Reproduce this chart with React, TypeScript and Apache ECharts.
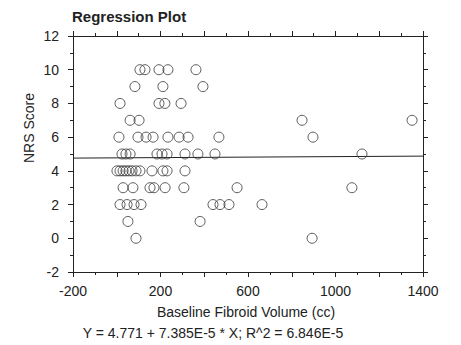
import React, { useEffect, useRef } from "react";
import * as echarts from "echarts";

// Scatter points grouped by NRS score row
const row10X = [106, 129, 193, 234, 362];
const row9X = [83, 211, 394];
const row8X = [15, 193, 220, 294];
const row7X = [61, 102, 847, 1350];
const row6X = [10, 97, 134, 166, 234, 285, 326, 467, 897];
const row5X = [24, 42, 61, 184, 207, 230, 312, 371, 449, 1121];
const row4X = [1, 15, 29, 42, 56, 70, 88, 106, 161, 211, 230, 312];
const row3X = [29, 74, 152, 170, 221, 307, 550, 1075];
const row2X = [15, 47, 79, 111, 440, 472, 513, 664];
const row1X = [51, 381];
const row0X = [88, 893];

const rows: [number, number[]][] = [
  [10, row10X], [9, row9X], [8, row8X], [7, row7X], [6, row6X], [5, row5X],
  [4, row4X], [3, row3X], [2, row2X], [1, row1X], [0, row0X],
];

const intercept = 4.771;
const slope = 7.385e-5;
const xMin = -200;
const xMax = 1400;
const yMin = -2;
const yMax = 12;

const titleText = "Regression Plot";
const xName = "Baseline Fibroid Volume (cc)";
const yName = "NRS Score";
const formulaText = "Y = 4.771 + 7.385E-5 * X; R^2 = 6.846E-5";

export default function App() {
  const ref = useRef<HTMLDivElement>(null);
  useEffect(() => {
    if (!ref.current) return;
    const chart = echarts.init(ref.current, null, { renderer: "svg" });
    const points: number[][] = [];
    rows.forEach(([y, xs]) => xs.forEach((x) => points.push([x, y])));
    const font = "'Liberation Sans', Arial, sans-serif";
    const ink = "#222";
    const axisCommon = {
      axisLine: { show: true, onZero: false, lineStyle: { color: ink, width: 1 } },
      axisTick: { show: true, inside: false, length: 5, lineStyle: { color: ink } },
      minorTick: { show: true, splitNumber: 2, length: 3, lineStyle: { color: ink } },
      splitLine: { show: false },
      minorSplitLine: { show: false },
    };
    chart.setOption({
      animation: false,
      backgroundColor: "#fff",
      textStyle: { fontFamily: font },
      grid: { left: 73, right: 38, top: 36, bottom: 73 },
      graphic: [
        {
          type: "text", left: 72, top: 9,
          style: { text: titleText, font: `bold 15px ${font}`, fill: ink },
        },
        {
          type: "text", x: 29, y: 128, rotation: Math.PI / 2,
          style: { text: yName, font: `14px ${font}`, fill: ink, align: "center", verticalAlign: "middle" },
        },
        {
          type: "text", x: 246, y: 312,
          style: { text: xName, font: `14px ${font}`, fill: ink, align: "center", verticalAlign: "middle" },
        },
        {
          type: "text", x: 213, y: 333,
          style: { text: formulaText, font: `14px ${font}`, fill: ink, align: "center", verticalAlign: "middle" },
        },
      ],
      xAxis: [
        {
          type: "value", min: xMin, max: xMax, interval: 200, position: "bottom",
          ...axisCommon,
          axisLabel: {
            margin: 12, color: ink, fontSize: 14, fontFamily: font,
            formatter: (v: number) => ((v - xMin) % 400 === 0 ? String(v) : ""),
          },
        },
        {
          type: "value", min: xMin, max: xMax, interval: 200, position: "top",
          ...axisCommon, axisLabel: { show: false },
        },
      ],
      yAxis: [
        {
          type: "value", min: yMin, max: yMax, interval: 2, position: "left",
          ...axisCommon,
          axisLabel: { margin: 14, color: ink, fontSize: 14, fontFamily: font },
        },
        {
          type: "value", min: yMin, max: yMax, interval: 2, position: "right",
          ...axisCommon, axisLabel: { show: false },
        },
      ],
      series: [
        {
          type: "scatter",
          data: points,
          symbol: "circle",
          symbolSize: 10,
          itemStyle: { color: "rgba(0,0,0,0)", borderColor: "#333", borderWidth: 1 },
          z: 3,
        },
        {
          type: "line",
          data: [[xMin, intercept + slope * xMin], [xMax, intercept + slope * xMax]],
          showSymbol: false,
          symbol: "none",
          lineStyle: { color: ink, width: 1 },
          z: 2,
        },
      ],
    });
    return () => chart.dispose();
  }, []);
  return (
    <div
      ref={ref}
      style={{ position: "fixed", left: 0, top: 0, width: 461, height: 345, background: "#fff" }}
    />
  );
}
